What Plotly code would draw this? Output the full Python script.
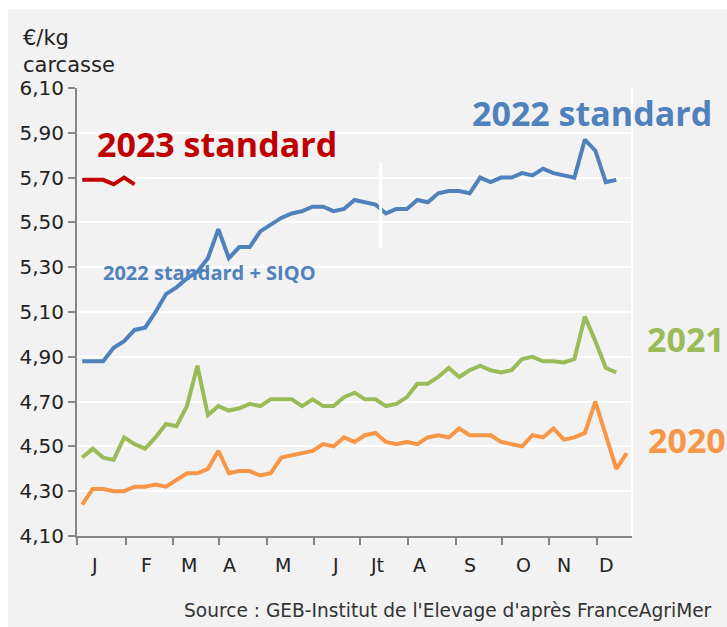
import plotly.graph_objects as go

# Weekly carcass prices (EUR/kg), one value per week of the year
weeks_2020 = list(range(1, 54))
price_2020 = [4.24, 4.31, 4.31, 4.30, 4.30, 4.32, 4.32, 4.33, 4.32, 4.35,
              4.38, 4.38, 4.40, 4.48, 4.38, 4.39, 4.39, 4.37, 4.38, 4.45,
              4.46, 4.47, 4.48, 4.51, 4.50, 4.54, 4.52, 4.55, 4.56, 4.52,
              4.51, 4.52, 4.51, 4.54, 4.55, 4.54, 4.58, 4.55, 4.55, 4.55,
              4.52, 4.51, 4.50, 4.55, 4.54, 4.58, 4.53, 4.54, 4.56, 4.70,
              4.55, 4.40, 4.47]

weeks_2021 = list(range(1, 53))
price_2021 = [4.45, 4.49, 4.45, 4.44, 4.54, 4.51, 4.49, 4.54, 4.60, 4.59,
              4.68, 4.86, 4.64, 4.68, 4.66, 4.67, 4.69, 4.68, 4.71, 4.71,
              4.71, 4.68, 4.71, 4.68, 4.68, 4.72, 4.74, 4.71, 4.71, 4.68,
              4.69, 4.72, 4.78, 4.78, 4.81, 4.85, 4.81, 4.84, 4.86, 4.84,
              4.83, 4.84, 4.89, 4.90, 4.88, 4.88, 4.875, 4.89, 5.08, 4.97,
              4.85, 4.83]

weeks_2022 = list(range(1, 53))
price_2022 = [4.88, 4.88, 4.88, 4.94, 4.97, 5.02, 5.03, 5.10, 5.18, 5.21,
              5.25, 5.28, 5.34, 5.47, 5.34, 5.39, 5.39, 5.46, 5.49, 5.52,
              5.54, 5.55, 5.57, 5.57, 5.55, 5.56, 5.60, 5.59, 5.58, 5.54,
              5.56, 5.56, 5.60, 5.59, 5.63, 5.64, 5.64, 5.63, 5.70, 5.68,
              5.70, 5.70, 5.72, 5.71, 5.74, 5.72, 5.71, 5.70, 5.87, 5.82,
              5.68, 5.69]

weeks_2023 = list(range(1, 7))
price_2023 = [5.69, 5.69, 5.69, 5.67, 5.70, 5.67]

# Axis definitions
y_ticks = [4.10, 4.30, 4.50, 4.70, 4.90, 5.10, 5.30, 5.50, 5.70, 5.90, 6.10]
month_bounds = [0.5, 5.18, 9.67, 14.06, 18.64, 23.13, 27.52, 32.11,
                36.69, 41.08, 45.57, 50.16]
month_labels = ["J", "F", "M", "A", "M", "J", "Jt", "A", "S", "O", "N", "D"]
month_label_pos = [2.15, 7.16, 11.22, 15.11, 20.2, 25.14, 29.12, 33.19,
                   38.04, 43.12, 47.0, 51.08]

# Switch from "standard + SIQO" to "standard" series in 2022
series_break_week = 29.5
series_break_span = (5.385, 5.765)

BLUE = "#4f81bd"
GREEN = "#9bbb59"
ORANGE = "#f79646"
RED = "#c00000"
BG = "#f2f2f2"
AXIS = "#868686"
TEXT_FONT = "DejaVu Sans"
BOLD_FONT = "Open Sans"

fig = go.Figure()
for x, y, color in [(weeks_2020, price_2020, ORANGE),
                    (weeks_2021, price_2021, GREEN),
                    (weeks_2022, price_2022, BLUE),
                    (weeks_2023, price_2023, RED)]:
    fig.add_trace(go.Scatter(x=x, y=y, mode="lines",
                             line=dict(color=color, width=4),
                             showlegend=False, hoverinfo="skip"))

W, H = 727, 627
ml, mr, mt, mb = 77, 95, 88, 91
pw, ph = W - ml - mr, H - mt - mb


def px(x):
    return (x - ml) / pw


def py(y):
    return (H - mb - y) / ph


fig.update_layout(
    width=W, height=H,
    margin=dict(l=ml, r=mr, t=mt, b=mb, pad=0),
    paper_bgcolor=BG, plot_bgcolor=BG,
    separators=", ",
    showlegend=False,
    xaxis=dict(range=[0.5, 53.5], showgrid=False, zeroline=False,
               showline=True, linecolor=AXIS, linewidth=2,
               ticks="outside", ticklen=7, tickwidth=2, tickcolor=AXIS,
               tickvals=month_bounds, showticklabels=False),
    yaxis=dict(range=[4.10, 6.10], tickvals=y_ticks, tickformat=".2f",
               showgrid=True, gridcolor="white", gridwidth=2, zeroline=False,
               showline=True, linecolor=AXIS, linewidth=2,
               ticks="outside", ticklen=7, tickwidth=2, tickcolor=AXIS,
               tickfont=dict(family=TEXT_FONT, size=20, color="#222222")),
)

shapes = [
    # white frame strips around the grey panel
    dict(type="rect", xref="paper", yref="paper", x0=px(0), x1=px(W),
         y0=py(0), y1=py(9), fillcolor="white", line=dict(width=0), layer="below"),
    dict(type="rect", xref="paper", yref="paper", x0=px(0), x1=px(8),
         y0=py(H), y1=py(0), fillcolor="white", line=dict(width=0), layer="below"),
    # right border of the plotting area
    dict(type="line", xref="paper", yref="paper", x0=1, x1=1, y0=0, y1=1,
         line=dict(color="white", width=2), layer="below"),
    # marker separating the two 2022 series
    dict(type="line", xref="x", yref="y", x0=series_break_week, x1=series_break_week,
         y0=series_break_span[0], y1=series_break_span[1],
         line=dict(color="white", width=3), layer="above"),
]
fig.update_layout(shapes=shapes)

annotations = []
for pos, lab in zip(month_label_pos, month_labels):
    annotations.append(dict(x=pos, y=py(565), xref="x", yref="paper", text=lab,
                            showarrow=False, xanchor="center", yanchor="middle",
                            font=dict(family=TEXT_FONT, size=19, color="#222222")))

big = dict(family=BOLD_FONT, size=34, weight="bold")
annotations += [
    dict(x=px(95), y=py(144), text="2023 standard", font=dict(big, color=RED)),
    dict(x=px(470), y=py(113), text="2022 standard", font=dict(big, color=BLUE)),
    dict(x=px(645), y=py(339), text="2021", font=dict(big, color=GREEN)),
    dict(x=px(646), y=py(440), text="2020", font=dict(big, color=ORANGE)),
    dict(x=px(101), y=py(272), text="2022 standard + SIQO",
         font=dict(family=BOLD_FONT, size=20, weight="bold", color=BLUE)),
    dict(x=px(21), y=py(38), text="€/kg",
         font=dict(family=TEXT_FONT, size=21, color="#222222")),
    dict(x=px(21), y=py(65), text="carcasse",
         font=dict(family=TEXT_FONT, size=21, color="#222222")),
]
for a in annotations[len(month_labels):]:
    a.update(xref="paper", yref="paper", showarrow=False,
             xanchor="left", yanchor="middle")

annotations.append(dict(x=px(714), y=py(610), xref="paper", yref="paper",
                        text="Source : GEB-Institut de l'Elevage d'après FranceAgriMer",
                        showarrow=False, xanchor="right", yanchor="middle",
                        font=dict(family=TEXT_FONT, size=18.6, color="#333333")))
fig.update_layout(annotations=annotations)

fig.write_html("out.html")
